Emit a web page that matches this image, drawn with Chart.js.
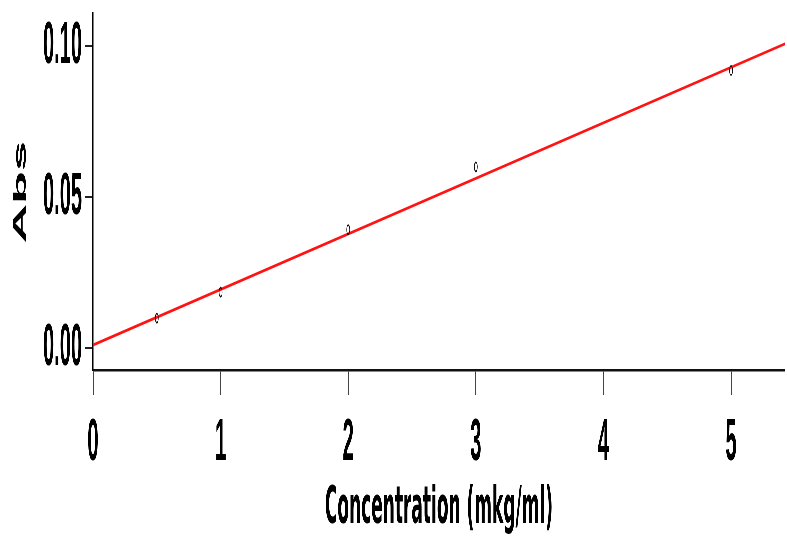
<!DOCTYPE html>
<html>
<head>
<meta charset="utf-8">
<script src="https://cdn.jsdelivr.net/npm/chart.js@4.4.1/dist/chart.umd.min.js"></script>
<style>
  html, body { margin: 0; padding: 0; background: #fff; overflow: hidden; }
  #wrap { width: 2361px; height: 540px; transform: scaleX(0.33333333); transform-origin: 0 0; }
  canvas { display: block; }
</style>
</head>
<body>
<div id="wrap"><canvas id="c" width="2361" height="540"></canvas></div>
<script>
// ---- data ----
const xTicks = [0, 1, 2, 3, 4, 5];
const yTicks = [0.00, 0.05, 0.10];
const concentration = [0.5, 1, 2, 3, 5];
const absorbance = [0.0099, 0.0185, 0.0392, 0.0600, 0.0919];
const fitX = [0, 5.422];
const fitY = [0.0010, 0.1007];
const xLabel = 'Concentration (mkg/ml)';
const yLabel = 'Abs';

// horizontal squeeze factor of the original picture
const K = 3;
const FONT = '"Liberation Sans", Arial, sans-serif';
const TITLE_FONT = '"DejaVu Sans", "Liberation Sans", sans-serif';

const points = concentration.map((x, i) => ({ x: x, y: absorbance[i] }));
const fit = fitX.map((x, i) => ({ x: x, y: fitY[i] }));

new Chart(document.getElementById('c'), {
  type: 'scatter',
  data: {
    datasets: [
      {
        label: 'fit',
        data: fit,
        showLine: true,
        borderColor: 'rgb(255,20,20)',
        borderWidth: 2.8,
        pointRadius: 0,
        fill: false,
        order: 2
      },
      {
        label: 'measured',
        data: points,
        showLine: false,
        pointStyle: 'circle',
        pointRadius: 4.5,
        borderColor: '#111',
        backgroundColor: 'rgba(0,0,0,0)',
        borderWidth: 1.8,
        order: 1
      }
    ]
  },
  options: {
    responsive: false,
    animation: false,
    devicePixelRatio: 1,
    layout: { padding: { top: 14, right: 0, left: 0, bottom: 0 } },
    plugins: { legend: { display: false }, tooltip: { enabled: false } },
    scales: {
      x: {
        type: 'linear',
        min: 0,
        max: 5.422,
        afterBuildTicks: s => { s.ticks = xTicks.map(v => ({ value: v })); },
        afterFit: s => { s.height = 170; s.paddingLeft = 0; s.paddingRight = 0; },
        grid: { display: true, drawOnChartArea: false, drawTicks: true, tickLength: 25, lineWidth: 3, color: '#444' },
        border: { display: true, color: '#111', width: 2.5 },
        ticks: {
          autoSkip: false,
          maxRotation: 0,
          padding: 12,
          color: '#000',
          font: { family: FONT, size: 60, weight: 'bold' },
          callback: v => String(v)
        },
        title: {
          display: true,
          text: xLabel,
          color: '#000',
          padding: { top: 0, bottom: 0 },
          font: { family: TITLE_FONT, size: 51, weight: 'bold' }
        }
      },
      y: {
        type: 'linear',
        min: -0.00728,
        max: 0.1106,
        afterBuildTicks: s => { s.ticks = yTicks.map(v => ({ value: v })); },
        afterFit: s => { s.width = 93 * K; s.paddingTop = 0; s.paddingBottom = 0; },
        grid: { display: true, drawOnChartArea: false, drawTicks: true, tickLength: 24, lineWidth: 2, color: '#222' },
        border: { display: true, color: '#000', width: 3.5 },
        ticks: {
          autoSkip: false,
          padding: 9,
          color: '#000',
          font: { family: FONT, size: 60, weight: 'bold' },
          callback: v => Number(v).toFixed(2)
        },
        title: {
          display: true,
          text: yLabel,
          color: '#000',
          padding: { top: 30, bottom: 0 },
          font: { family: FONT, size: 54, weight: 'bold' }
        }
      }
    }
  }
});
</script>
</body>
</html>
